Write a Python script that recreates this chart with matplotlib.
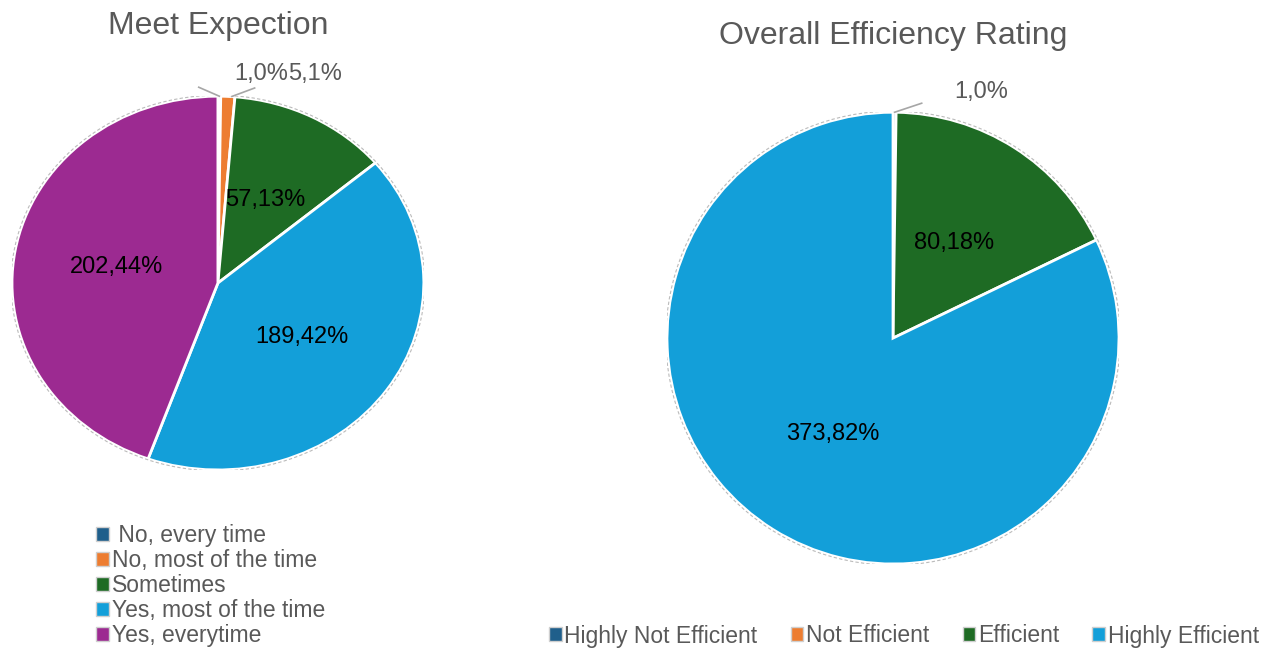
import matplotlib
matplotlib.use("Agg")
import matplotlib.pyplot as plt
import numpy as np
from matplotlib.patches import Circle, Patch

plt.rcParams['font.family'] = ['Liberation Sans', 'DejaVu Sans']

# Data
meet_categories = [" No, every time", "No, most of the time", "Sometimes",
                   "Yes, most of the time", "Yes, everytime"]
meet_values = [1, 5, 57, 189, 202]
meet_labels = ["1,0%", "5,1%", "57,13%", "189,42%", "202,44%"]

eff_categories = ["Highly Not Efficient", "Not Efficient", "Efficient", "Highly Efficient"]
eff_values = [1, 0, 80, 373]
eff_labels = ["1,0%", "", "80,18%", "373,82%"]

meet_colors = ["#1F5F8B", "#ED7D31", "#1E6B24", "#139FD9", "#9C2A91"]
eff_colors = ["#1F5F8B", "#ED7D31", "#1E6B24", "#139FD9"]

TXT = "#595959"
LBL = 17
LEG = 16.5

fig = plt.figure(figsize=(12.71, 6.5), dpi=100)

def draw_pie(ax, values, colors):
    wedges, _ = ax.pie(values, colors=colors, startangle=90, counterclock=False,
                       radius=1.0, wedgeprops=dict(edgecolor="white", linewidth=2))
    ax.add_patch(Circle((0, 0), 1.005, fill=False, edgecolor="#BBBBBB",
                        linestyle=(0, (3, 2)), linewidth=0.8))
    ax.set_aspect('auto')
    ax.set_xlim(-1, 1)
    ax.set_ylim(-1, 1)
    ax.axis('off')
    return wedges

def mid_xy(w, r):
    a = np.deg2rad((w.theta1 + w.theta2) / 2)
    return r * np.cos(a), r * np.sin(a)

def handles(colors):
    return [Patch(facecolor=c, edgecolor="#CFCFCF", linewidth=1.0) for c in colors]

# Left pie
ax1 = fig.add_axes([0.00944, 0.277, 0.324, 0.575])
w1 = draw_pie(ax1, meet_values, meet_colors)
for i in (2, 3, 4):
    x, y = mid_xy(w1[i], 0.5)
    ax1.text(x, y, meet_labels[i], ha='center', va='center', fontsize=LBL, color='black')
x0, y0 = mid_xy(w1[0], 1.0)
ax1.plot([x0, x0 - 0.1], [y0, y0 + 0.048], color="#A6A6A6", lw=1.2, clip_on=False)
x1, y1 = mid_xy(w1[1], 1.0)
ax1.plot([x1 + 0.02, x1 + 0.13], [y1, y1 + 0.045], color="#A6A6A6", lw=1.2, clip_on=False)
ax1.text(0.34, 1.118, meet_labels[0], ha='right', va='center', fontsize=LBL, color=TXT)
ax1.text(0.34, 1.118, meet_labels[1], ha='left', va='center', fontsize=LBL, color=TXT)

fig.text(218 / 1271, 1 - 26 / 650, "Meet Expection", ha='center', va='center',
         fontsize=23, color=TXT)

fig.legend(handles(meet_colors), meet_categories, loc='upper left',
           bbox_to_anchor=(96 / 1271, 1 - 524 / 650), borderaxespad=0,
           frameon=False, fontsize=LEG, handlelength=0.55, handleheight=0.55,
           handletextpad=0.15, labelspacing=0.09, borderpad=0, labelcolor=TXT)

# Right pie
ax2 = fig.add_axes([0.5248, 0.1323, 0.3556, 0.695])
w2 = draw_pie(ax2, eff_values, eff_colors)
for i in (2, 3):
    x, y = mid_xy(w2[i], 0.5)
    ax2.text(x, y, eff_labels[i], ha='center', va='center', fontsize=LBL, color='black')
x0, y0 = mid_xy(w2[0], 1.0)
ax2.plot([x0, x0 + 0.12], [y0, y0 + 0.04], color="#A6A6A6", lw=1.2, clip_on=False)
ax2.text(0.39, 1.088, eff_labels[0], ha='center', va='center', fontsize=LBL, color=TXT)

fig.text(893 / 1271, 1 - 36 / 650, "Overall Efficiency Rating", ha='center', va='center',
         fontsize=23, color=TXT)

fig.legend(handles(eff_colors), eff_categories, loc='center',
           bbox_to_anchor=(904 / 1271, 1 - 636 / 650),
           ncol=4, frameon=False, fontsize=LEG, handlelength=0.55, handleheight=0.55,
           handletextpad=0.12, columnspacing=1.45, borderpad=0, labelcolor=TXT)

fig.savefig("out.png", dpi=100)
